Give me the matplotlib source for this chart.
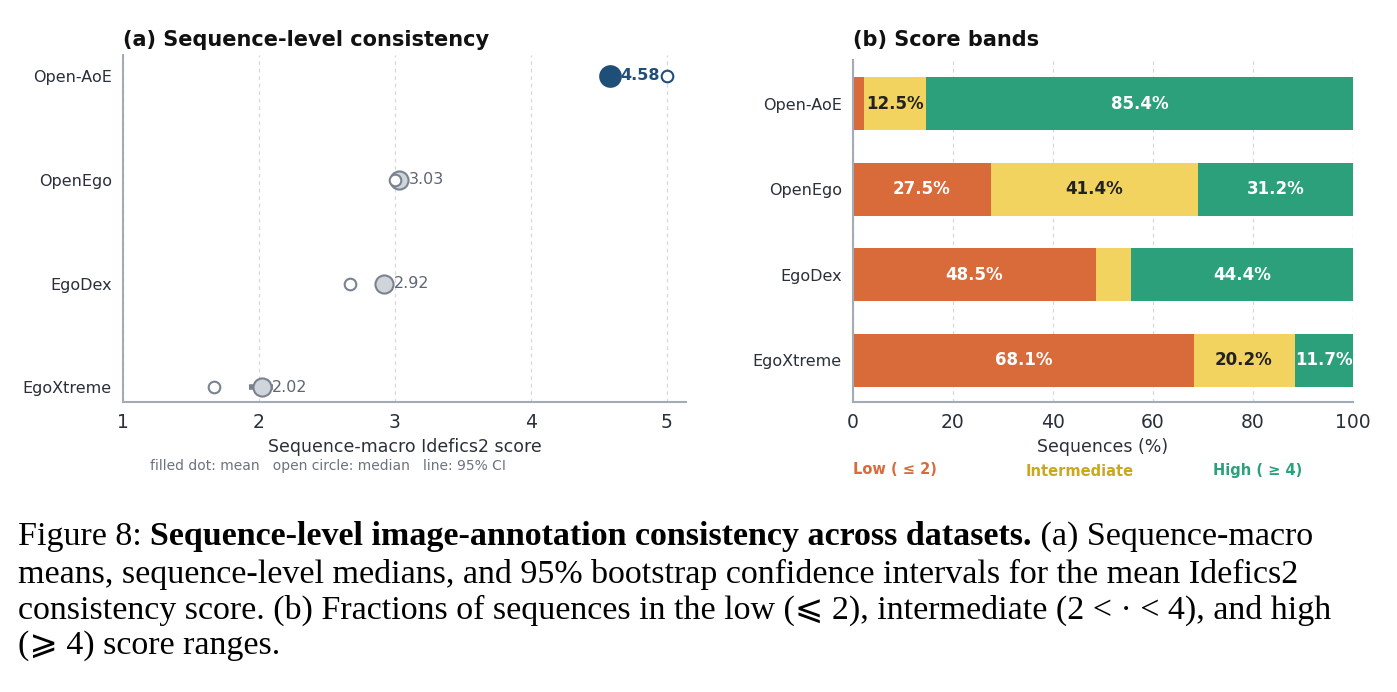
import matplotlib
matplotlib.use("Agg")
import matplotlib.pyplot as plt

datasets = ["Open-AoE", "OpenEgo", "EgoDex", "EgoXtreme"]
means = [4.58, 3.03, 2.92, 2.02]
medians = [5.0, 3.0, 2.67, 1.67]
ci_low = [4.56, 3.00, 2.90, 1.93]
ci_high = [4.60, 3.06, 2.94, 2.10]
low_pct = [2.1, 27.5, 48.5, 68.1]
mid_pct = [12.5, 41.4, 7.1, 20.2]
high_pct = [85.4, 31.2, 44.4, 11.7]
mid_labels = ["12.5%", "41.4%", "", "20.2%"]
low_labels = ["", "27.5%", "48.5%", "68.1%"]
high_labels = ["85.4%", "31.2%", "44.4%", "11.7%"]

C_LOW, C_MID, C_HIGH = "#D96B3B", "#F2D35F", "#2BA07A"
C_BLUE, C_GRAY, C_FILL = "#1F4E79", "#7A8290", "#D0D5DB"
SPINE = "#A3ABB7"
TXT = "#2A2F3A"

plt.rcParams["font.family"] = ["DejaVu Sans"]
fig = plt.figure(figsize=(13.97, 6.92), dpi=100)
W, H = 1397, 692
def ax_at(l, t, r, b):
    return fig.add_axes([l / W, 1 - b / H, (r - l) / W, (b - t) / H])

# ---- panel a
ax = ax_at(123, 55, 686, 402)
ys = list(range(len(datasets)))
for i in ys:
    hl = i == 0
    c = C_BLUE if hl else C_GRAY
    ax.plot([ci_low[i], ci_high[i]], [i, i], color=c, lw=4, solid_capstyle="butt", zorder=2)
    ax.scatter(medians[i], i, s=70, facecolor="white", edgecolor=c, lw=1.5, zorder=4 if not hl else 3)
    ax.scatter(means[i], i, s=220 if hl else 170, facecolor=C_BLUE if hl else C_FILL,
               edgecolor=C_BLUE if hl else C_GRAY, lw=1.5, zorder=3 if not hl else 4)
    ax.text(means[i] + 0.075, i, f"{means[i]:.2f}", va="center", ha="left",
            fontsize=11.5, color=C_BLUE if hl else "#5E6674",
            fontweight="bold" if hl else "normal", zorder=5)
ax.set_xlim(1, 5.14)
ax.set_ylim(3.14, -0.2)
ax.set_yticks(ys)
ax.set_yticklabels(datasets, fontsize=11.5, color=TXT)
ax.set_xticks([1, 2, 3, 4, 5])
ax.tick_params(axis="x", labelsize=13.5, colors=TXT, length=0, pad=8)
ax.tick_params(axis="y", length=0, pad=8)
ax.grid(axis="x", ls=(0, (3, 3)), color="#D5D9DF", lw=0.9)
ax.set_axisbelow(True)
for s in ["top", "right"]:
    ax.spines[s].set_visible(False)
for s in ["left", "bottom"]:
    ax.spines[s].set_color(SPINE); ax.spines[s].set_linewidth(1.5)
ax.set_xlabel("Sequence-macro Idefics2 score", fontsize=12.5, color=TXT, labelpad=4)
fig.text(123 / W, 1 - 40 / H, "(a) Sequence-level consistency", ha="left", va="center",
         fontsize=15, fontweight="bold", color="#111111")
fig.text(328 / W, 1 - 466 / H, "filled dot: mean   open circle: median   line: 95% CI",
         ha="center", va="center", fontsize=10, color="#6B7380")

# ---- panel b
bx = ax_at(853, 60, 1353, 402)
bx.barh(ys, low_pct, height=0.62, color=C_LOW)
bx.barh(ys, mid_pct, left=low_pct, height=0.62, color=C_MID)
lm = [a + b for a, b in zip(low_pct, mid_pct)]
bx.barh(ys, high_pct, left=lm, height=0.62, color=C_HIGH)
for i in ys:
    bx.text(low_pct[i] / 2, i, low_labels[i], ha="center", va="center", color="white",
            fontsize=12, fontweight="bold")
    bx.text(low_pct[i] + mid_pct[i] / 2, i, mid_labels[i], ha="center", va="center",
            color="#222222", fontsize=12, fontweight="bold")
    bx.text(lm[i] + high_pct[i] / 2, i, high_labels[i], ha="center", va="center",
            color="white", fontsize=12, fontweight="bold")
bx.set_xlim(0, 100)
bx.set_ylim(3.49, -0.51)
bx.set_yticks(ys)
bx.set_yticklabels(datasets, fontsize=11.5, color=TXT)
bx.set_xticks([0, 20, 40, 60, 80, 100])
bx.tick_params(axis="x", labelsize=13.5, colors=TXT, length=0, pad=8)
bx.tick_params(axis="y", length=0, pad=8)
bx.grid(axis="x", ls=(0, (3, 3)), color="#D5D9DF", lw=0.9)
bx.set_axisbelow(True)
for s in ["top", "right"]:
    bx.spines[s].set_visible(False)
for s in ["left", "bottom"]:
    bx.spines[s].set_color(SPINE); bx.spines[s].set_linewidth(1.5)
bx.set_xlabel("Sequences (%)", fontsize=12.5, color=TXT, labelpad=4)
fig.text(853 / W, 1 - 40 / H, "(b) Score bands", ha="left", va="center",
         fontsize=15, fontweight="bold", color="#111111")
fig.text(853 / W, 1 - 470 / H, "Low ( ≤ 2)", ha="left", va="center", fontsize=10.5,
         fontweight="bold", color=C_LOW)
fig.text(1080 / W, 1 - 472 / H, "Intermediate", ha="center", va="center", fontsize=10.5,
         fontweight="bold", color="#C9A820")
fig.text(1213 / W, 1 - 470 / H, "High ( ≥ 4)", ha="left", va="center", fontsize=10.5,
         fontweight="bold", color=C_HIGH)

# ---- caption
serif = "Liberation Serif"
fs = 24.5
lines = [
    [("Figure 8: ", "normal"), ("Sequence-level image-annotation consistency across datasets.", "bold"),
     (" (a) Sequence-macro", "normal")],
    [("means, sequence-level medians, and 95% bootstrap confidence intervals for the mean Idefics2", "normal")],
    [("consistency score. (b) Fractions of sequences in the low (⩽ 2), intermediate (2 < · < 4), and high", "normal")],
    [("(⩾ 4) score ranges.", "normal")],
]
ycs = [537, 574, 610, 646]
fig.canvas.draw()
r = fig.canvas.get_renderer()
for segs, yc in zip(lines, ycs):
    x = 18
    for s, w in segs:
        t = fig.text(x / W, 1 - yc / H, s, ha="left", va="center", fontsize=fs,
                     family=[serif, "DejaVu Serif", "DejaVu Sans"], fontweight=w, color="black")
        x += t.get_window_extent(r).width

fig.savefig("out.png", dpi=100)
